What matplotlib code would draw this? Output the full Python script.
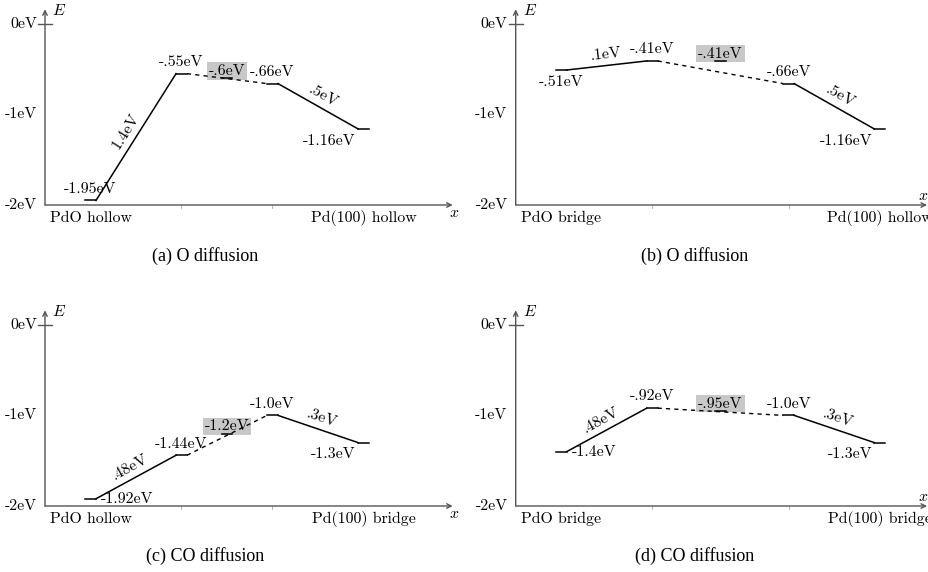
import numpy as np
import matplotlib
matplotlib.use('Agg')
import matplotlib.pyplot as plt

plt.rcParams['lines.scale_dashes'] = False

# (a) O diffusion
a_x = [0.5, 1.5, 2.5, 3.5]
a_E = [-1.95, -0.55, -0.66, -1.16]
a_labels = ['-1.95eV', '-.55eV', '-.66eV', '-1.16eV']
a_ts_x, a_ts_E, a_ts_label = 2.0, -0.6, '-.6eV'
a_slopes = ['1.4eV', '.5eV']
a_sites = ['PdO hollow', 'Pd(100) hollow']

# (b) O diffusion
b_x = [0.5, 1.5, 3.0, 4.0]
b_E = [-0.51, -0.41, -0.66, -1.16]
b_labels = ['-.51eV', '-.41eV', '-.66eV', '-1.16eV']
b_ts_x, b_ts_E, b_ts_label = 2.25, -0.41, '-.41eV'
b_slopes = ['.1eV', '.5eV']
b_sites = ['PdO bridge', 'Pd(100) hollow']

# (c) CO diffusion
c_x = [0.5, 1.5, 2.5, 3.5]
c_E = [-1.92, -1.44, -1.0, -1.3]
c_labels = ['-1.92eV', '-1.44eV', '-1.0eV', '-1.3eV']
c_ts_x, c_ts_E, c_ts_label = 2.0, -1.2, '-1.2eV'
c_slopes = ['.48eV', '.3eV']
c_sites = ['PdO hollow', 'Pd(100) bridge']

# (d) CO diffusion
d_x = [0.5, 1.5, 3.0, 4.0]
d_E = [-1.4, -0.92, -1.0, -1.3]
d_labels = ['-1.4eV', '-.92eV', '-1.0eV', '-1.3eV']
d_ts_x, d_ts_E, d_ts_label = 2.25, -0.95, '-.95eV'
d_slopes = ['.48eV', '.3eV']
d_sites = ['PdO bridge', 'Pd(100) bridge']

captions = ['(a) O diffusion', '(b) O diffusion', '(c) CO diffusion', '(d) CO diffusion']

W, H = 929, 572
UX, UY = 91.0, 90.6          # pixels per unit on each axis
RM = 'cmr10'
MI = 'cmmi10'
FS = 11.4
AXC = '#555555'

fig = plt.figure(figsize=(W / 100, H / 100), dpi=100)


def panel_axes(ox, oy):
    left, right = ox - 0.5 * UX, ox + 5.0 * UX
    top, bottom = oy - 2.3 * UY, oy + 0.4 * UY
    ax = fig.add_axes([left / W, 1 - bottom / H, (right - left) / W, (bottom - top) / H])
    ax.set_xlim(-0.5, 5.0)
    ax.set_ylim(-2.4, 0.3)
    ax.axis('off')
    return ax


def offsets(anchor):
    # (dx, dy) in points, ha, va
    return {'above': ((0, 8.3), 'center', 'center'),
            'below': ((0, -8.6), 'center', 'center'),
            'below left': ((-5.5, -8.6), 'right', 'center'),
            'right': ((7.5, -0.5), 'left', 'center')}[anchor]


def draw(ax, xs, Es, labels, anchors, ts_x, ts_E, ts_label, slopes, sites,
         xend, xlab_pos):
    hw = 0.06
    arrow = dict(arrowstyle='->', lw=1.0, color=AXC, shrinkA=0, shrinkB=0,
                 mutation_scale=8)
    ax.annotate('', xy=(0, 0.16), xytext=(0, -2), arrowprops=arrow)
    ax.annotate('', xy=(xend, -2), xytext=(0, -2), arrowprops=arrow)
    ax.plot([-0.075, 0.075], [0, 0], color=AXC, lw=1.0)
    for v, t in zip([0, -1, -2], ['0eV', '-1eV', '-2eV']):
        ax.text(-0.09, v, t, family=RM, fontsize=FS, ha='right', va='center')
    ax.text(0.08, 0.14, 'E', family=MI, fontsize=FS, ha='left', va='center')
    lx, ly, lha = xlab_pos
    ax.text(lx, ly, 'x', family=MI, fontsize=FS, ha=lha, va='center')
    for x in xs[1:3]:
        ax.plot([x, x], [-2, -2.03], color='#aaaaaa', lw=0.6)

    # states
    for x, e in zip(xs + [ts_x], Es + [ts_E]):
        ax.plot([x - hw, x + hw], [e, e], color='k', lw=1.1, zorder=3)
    for x, e, t, an in zip(xs, Es, labels, anchors):
        off, ha, va = offsets(an)
        ax.annotate(t, (x, e), xytext=off, textcoords='offset points',
                    family=RM, fontsize=FS, ha=ha, va=va)
    ax.annotate(ts_label, (ts_x, ts_E), xytext=(0, 5.2), textcoords='offset points',
                family=RM, fontsize=FS, ha='center', va='center', zorder=1,
                bbox=dict(boxstyle='square,pad=0.12', fc='#c8c8c8', ec='none'))

    # paths between states
    styles = ['-', '--', '-']
    for i in range(3):
        x0, x1 = xs[i] + hw, xs[i + 1] - hw
        if styles[i] == '--':
            ax.plot([x0, x1], [Es[i], Es[i + 1]], color='k', lw=1.0,
                    dashes=(3.0, 3.0), zorder=2)
        else:
            ax.plot([x0, x1], [Es[i], Es[i + 1]], color='k', lw=1.1, zorder=2)

    # step heights written along the solid segments
    for i, t in zip([0, 2], slopes):
        p0 = ax.transData.transform((xs[i] + hw, Es[i]))
        p1 = ax.transData.transform((xs[i + 1] - hw, Es[i + 1]))
        ang = np.degrees(np.arctan2(p1[1] - p0[1], p1[0] - p0[0]))
        th = np.radians(ang)
        d = 8.3
        mx, my = (xs[i] + xs[i + 1]) / 2, (Es[i] + Es[i + 1]) / 2
        ax.annotate(t, (mx, my), xytext=(-np.sin(th) * d, np.cos(th) * d),
                    textcoords='offset points', family=RM, fontsize=FS,
                    ha='center', va='center', rotation=ang, rotation_mode='anchor')

    for x, s in zip([xs[0], xs[-1]], sites):
        ax.text(x, -2.14, s, family=RM, fontsize=FS, ha='center', va='center')


panels = [
    (45.0, 205.0, a_x, a_E, a_labels, ['above', 'above', 'above', 'below left'],
     a_ts_x, a_ts_E, a_ts_label, a_slopes, a_sites, 4.48, (4.5, -2.09, 'center')),
    (515.7, 205.0, b_x, b_E, b_labels, ['below', 'above', 'above', 'below left'],
     b_ts_x, b_ts_E, b_ts_label, b_slopes, b_sites, 4.52, (4.53, -1.9, 'right')),
    (45.0, 506.0, c_x, c_E, c_labels, ['right', 'above', 'above', 'below left'],
     c_ts_x, c_ts_E, c_ts_label, c_slopes, c_sites, 4.48, (4.5, -2.09, 'center')),
    (515.7, 506.0, d_x, d_E, d_labels, ['right', 'above', 'above', 'below left'],
     d_ts_x, d_ts_E, d_ts_label, d_slopes, d_sites, 4.52, (4.53, -1.9, 'right')),
]

for p in panels:
    ax = panel_axes(p[0], p[1])
    draw(ax, *p[2:])

for (cx, cy), cap in zip([(205, 256), (695, 256), (205, 556), (695, 556)], captions):
    fig.text(cx / W, 1 - cy / H, cap, family='Liberation Serif', fontsize=13,
             ha='center', va='center')

fig.savefig('out.png', dpi=100)
